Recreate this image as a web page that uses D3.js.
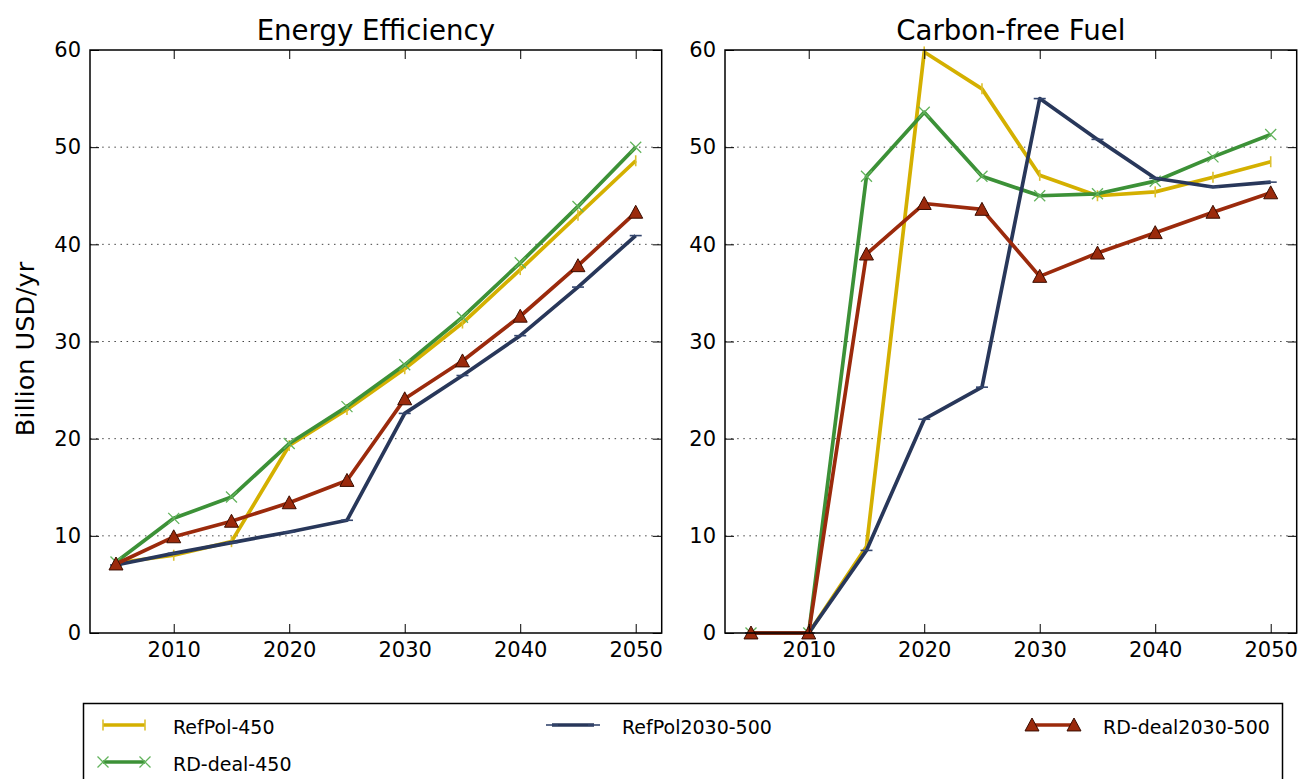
<!DOCTYPE html>
<html>
<head>
<meta charset="utf-8">
<script src="https://cdn.jsdelivr.net/npm/d3@7"></script>
<style>
  html, body { margin: 0; padding: 0; background: #fff; }
  svg { display: block; }
  text { font-family: "DejaVu Sans", sans-serif; fill: #000; }
</style>
</head>
<body>
<svg id="chart" width="1312" height="779"></svg>
<script>
// ---- data ----
const years = [2005, 2010, 2015, 2020, 2025, 2030, 2035, 2040, 2045, 2050];
const xTicks = [2010, 2020, 2030, 2040, 2050];
const yTicks = [0, 10, 20, 30, 40, 50, 60];
const panelTitles = ["Energy Efficiency", "Carbon-free Fuel"];
const seriesNames = ["RefPol-450", "RD-deal-450", "RefPol2030-500", "RD-deal2030-500"];

// Energy Efficiency
const eeRefPol450      = [7.2, 8.0, 9.4, 19.3, 23.0, 27.2, 31.9, 37.4, 43.0, 48.6];
const eeRDdeal450      = [7.3, 11.8, 14.0, 19.5, 23.3, 27.6, 32.5, 38.1, 43.9, 50.0];
const eeRefPol2030_500 = [7.0, 8.2, 9.3, 10.4, 11.6, 22.6, 26.5, 30.6, 35.6, 40.9];
const eeRDdeal2030_500 = [7.1, 9.9, 11.5, 13.4, 15.7, 24.1, 28.0, 32.6, 37.8, 43.3];

// Carbon-free Fuel
const cfRefPol450      = [0, 0, 8.9, 59.8, 56.0, 47.1, 45.0, 45.4, 46.9, 48.5];
const cfRDdeal450      = [0, 0, 47.0, 53.6, 47.0, 45.0, 45.2, 46.5, 49.0, 51.3];
const cfRefPol2030_500 = [0, 0, 8.5, 22.0, 25.3, 55.0, 50.8, 46.8, 45.9, 46.4];
const cfRDdeal2030_500 = [0, 0, 39.0, 44.2, 43.6, 36.7, 39.1, 41.2, 43.3, 45.3];

// ---- styling ----
const styles = [
  { color: "#d4b000", marker: "vline", mcolor: "#dcc030" },
  { color: "#3c9137", marker: "x",     mcolor: "#62b35c" },
  { color: "#28375a", marker: "hline", mcolor: "#34466e" },
  { color: "#9b2a0c", marker: "tri",   mcolor: "#3a0d00" }
];

const panels = [
  { title: panelTitles[0], left: 90,  right: 661.7,
    series: [eeRefPol450, eeRDdeal450, eeRefPol2030_500, eeRDdeal2030_500] },
  { title: panelTitles[1], left: 725, right: 1296.7,
    series: [cfRefPol450, cfRDdeal450, cfRefPol2030_500, cfRDdeal2030_500] }
];
const plotTop = 50, plotBottom = 633;

const svg = d3.select("#chart");

function drawMarker(g, type, x, y, st) {
  if (type === "vline") {
    g.append("line").attr("x1", x).attr("x2", x).attr("y1", y - 5.5).attr("y2", y + 5.5)
      .attr("stroke", st.mcolor).attr("stroke-width", 1.6);
  } else if (type === "hline") {
    g.append("line").attr("x1", x - 6).attr("x2", x + 6).attr("y1", y).attr("y2", y)
      .attr("stroke", st.mcolor).attr("stroke-width", 1.6);
  } else if (type === "x") {
    const s = 5.5;
    g.append("path").attr("d", `M${x-s},${y-s}L${x+s},${y+s}M${x-s},${y+s}L${x+s},${y-s}`)
      .attr("stroke", st.mcolor).attr("stroke-width", 1.3).attr("fill", "none");
  } else if (type === "tri") {
    const s = 7;
    g.append("path").attr("d", `M${x},${y-s}L${x+s},${y+s*0.85}L${x-s},${y+s*0.85}Z`)
      .attr("fill", st.color).attr("stroke", st.mcolor).attr("stroke-width", 1);
  }
}

panels.forEach(p => {
  const x = d3.scaleLinear().domain([2002.75, 2052.25]).range([p.left, p.right]);
  const y = d3.scaleLinear().domain([0, 60]).range([plotBottom, plotTop]);
  const g = svg.append("g");

  // grid
  g.append("g").selectAll("line").data(yTicks.filter(t => t > 0 && t < 60)).join("line")
    .attr("x1", p.left).attr("x2", p.right)
    .attr("y1", d => y(d)).attr("y2", d => y(d))
    .attr("stroke", "#444").attr("stroke-width", 1).attr("stroke-dasharray", "1.5,4.6");

  // series
  const line = d3.line().x((d, i) => x(years[i])).y(d => y(d));
  p.series.forEach((vals, si) => {
    const st = styles[si];
    const sg = g.append("g");
    sg.append("path").datum(vals).attr("d", line)
      .attr("fill", "none").attr("stroke", st.color).attr("stroke-width", 3.7)
      .attr("stroke-linejoin", "round");
    vals.forEach((v, i) => drawMarker(sg, st.marker, x(years[i]), y(v), st));
  });

  // axes
  const fmt = d3.format("d");
  const ax = [
    g.append("g").attr("transform", `translate(0,${plotBottom})`)
      .call(d3.axisBottom(x).tickValues(xTicks).tickFormat(fmt).tickSize(-9).tickPadding(9)),
    g.append("g").attr("transform", `translate(0,${plotTop})`)
      .call(d3.axisTop(x).tickValues(xTicks).tickFormat("").tickSize(-9)),
    g.append("g").attr("transform", `translate(${p.left},0)`)
      .call(d3.axisLeft(y).tickValues(yTicks).tickFormat(fmt).tickSize(-9).tickPadding(9)),
    g.append("g").attr("transform", `translate(${p.right},0)`)
      .call(d3.axisRight(y).tickValues(yTicks).tickFormat("").tickSize(-9))
  ];
  ax.forEach(a => {
    a.select(".domain").remove();
    a.selectAll(".tick line").attr("stroke", "#000").attr("stroke-width", 1);
    a.selectAll("text").attr("font-family", "DejaVu Sans").attr("font-size", 21).attr("fill", "#000");
  });

  // frame
  g.append("rect").attr("x", p.left).attr("y", plotTop)
    .attr("width", p.right - p.left).attr("height", plotBottom - plotTop)
    .attr("fill", "none").attr("stroke", "#000").attr("stroke-width", 1.5);

  // title
  g.append("text").attr("x", (p.left + p.right) / 2).attr("y", 40)
    .attr("text-anchor", "middle").attr("font-size", 27.6).text(p.title);
});

// y label
svg.append("text").attr("transform", "translate(34,349) rotate(-90)")
  .attr("text-anchor", "middle").attr("font-size", 25.5).text("Billion USD/yr");

// legend
const lg = svg.append("g");
lg.append("rect").attr("x", 83.5).attr("y", 703.5).attr("width", 1199).attr("height", 100)
  .attr("fill", "#fff").attr("stroke", "#000").attr("stroke-width", 1.5);
const legendPos = [
  { hx: 103, tx: 173, y: 725 },
  { hx: 103, tx: 173, y: 762 },
  { hx: 552, tx: 622, y: 725 },
  { hx: 1032, tx: 1103, y: 725 }
];
seriesNames.forEach((name, i) => {
  const st = styles[i], pos = legendPos[i];
  const eg = lg.append("g");
  eg.append("line").attr("x1", pos.hx).attr("x2", pos.hx + 42)
    .attr("y1", pos.y).attr("y2", pos.y)
    .attr("stroke", st.color).attr("stroke-width", 3.7);
  drawMarker(eg, st.marker, pos.hx, pos.y, st);
  drawMarker(eg, st.marker, pos.hx + 42, pos.y, st);
  eg.append("text").attr("x", pos.tx).attr("y", pos.y + 9)
    .attr("font-family", "DejaVu Sans").attr("font-size", 19)
    .attr("textLength", null)
    .text(name);
});
</script>
</body>
</html>
